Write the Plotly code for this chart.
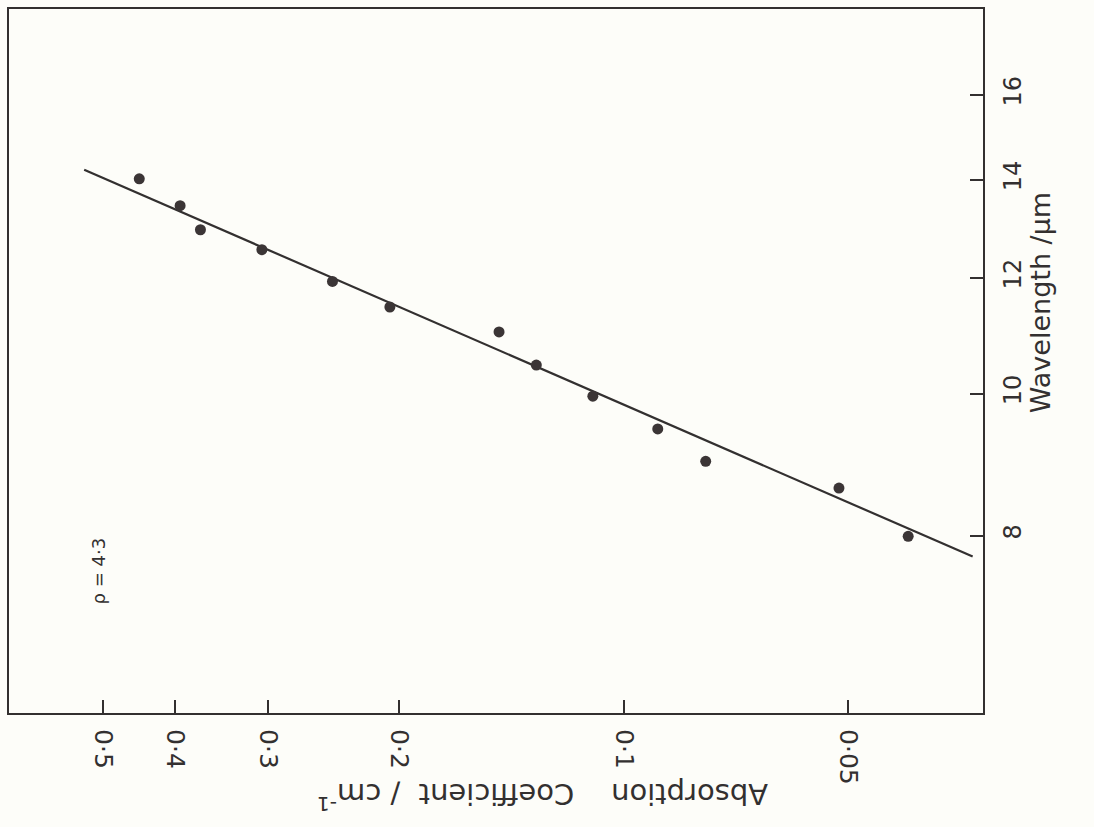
import plotly.graph_objects as go

# Data read from the (rotated) log-log figure
absorption = [0.447, 0.394, 0.370, 0.306, 0.246, 0.206, 0.147, 0.131, 0.110, 0.090, 0.0776, 0.0514, 0.0415]
wavelength = [14.02, 13.44, 12.94, 12.54, 11.93, 11.46, 11.02, 10.46, 9.96, 9.46, 8.99, 8.62, 7.99]

fit_absorption = [0.530, 0.0340]
fit_wavelength = [14.22, 7.74]

x_tickvals = [0.5, 0.4, 0.3, 0.2, 0.1, 0.05]
x_ticktext = ["0·5", "0·4", "0·3", "0·2", "0·1", "0·05"]
y_tickvals = [8, 10, 12, 14, 16]
y_ticktext = ["8", "10", "12", "14", "16"]

ink = "#333030"
font = "DejaVu Sans, Liberation Sans, sans-serif"

W, H = 1094, 827
L, R, T, B = 9, 111, 7, 114
pw, ph = W - L - R, H - T - B


def px(x, y):
    return (x - L) / pw, (H - B - y) / ph


fig = go.Figure()
fig.add_trace(go.Scatter(
    x=fit_absorption, y=fit_wavelength, mode="lines",
    line=dict(color=ink, width=2.2), showlegend=False, hoverinfo="skip"))
fig.add_trace(go.Scatter(
    x=absorption, y=wavelength, mode="markers",
    marker=dict(color="#3b3536", size=11, line=dict(width=0)),
    showlegend=False))

fig.update_layout(
    width=W, height=H,
    margin=dict(l=L, r=R, t=T, b=B),
    paper_bgcolor="#fdfdf9", plot_bgcolor="#fdfdf9",
    font=dict(family=font, color=ink, size=22),
)
fig.update_xaxes(
    type="log", range=[-0.1748, -1.4824],
    tickvals=x_tickvals, ticktext=x_ticktext, tickangle=90,
    ticks="inside", ticklen=13, tickwidth=2, tickcolor=ink,
    ticklabelstandoff=9,
    showline=True, linewidth=2.2, linecolor=ink, mirror=True,
    showgrid=False, zeroline=False,
    tickfont=dict(size=25, family=font, color=ink),
)
fig.update_yaxes(
    type="log", range=[0.7819, 1.2627], side="right",
    tickvals=y_tickvals, ticktext=y_ticktext, tickangle=-90,
    ticks="inside", ticklen=13, tickwidth=2, tickcolor=ink,
    ticklabelstandoff=7,
    showline=True, linewidth=2.2, linecolor=ink, mirror=True,
    showgrid=False, zeroline=False,
    tickfont=dict(size=24, family=font, color=ink),
)

ax, ay = px(543, 797)
fig.add_annotation(
    text="Absorption    Coefficient  / cm<sup>-1</sup>",
    xref="paper", yref="paper", x=ax, y=ay, xanchor="center", yanchor="middle",
    textangle=180, showarrow=False,
    font=dict(size=29, family=font, color=ink))
bx, by = px(1040, 302)
fig.add_annotation(
    text="Wavelength /µm",
    xref="paper", yref="paper", x=bx, y=by, xanchor="center", yanchor="middle",
    textangle=-90, showarrow=False,
    font=dict(size=27, family=font, color=ink))
cx, cy = px(98, 571)
fig.add_annotation(
    text="ρ = 4·3",
    xref="paper", yref="paper", x=cx, y=cy, xanchor="center", yanchor="middle",
    textangle=-90, showarrow=False,
    font=dict(size=18, family=font, color=ink))

fig.write_html(
    "out.html",
    config={"displayModeBar": False},
    post_script="document.body.style.margin='0';document.body.style.overflow='hidden';",
)
